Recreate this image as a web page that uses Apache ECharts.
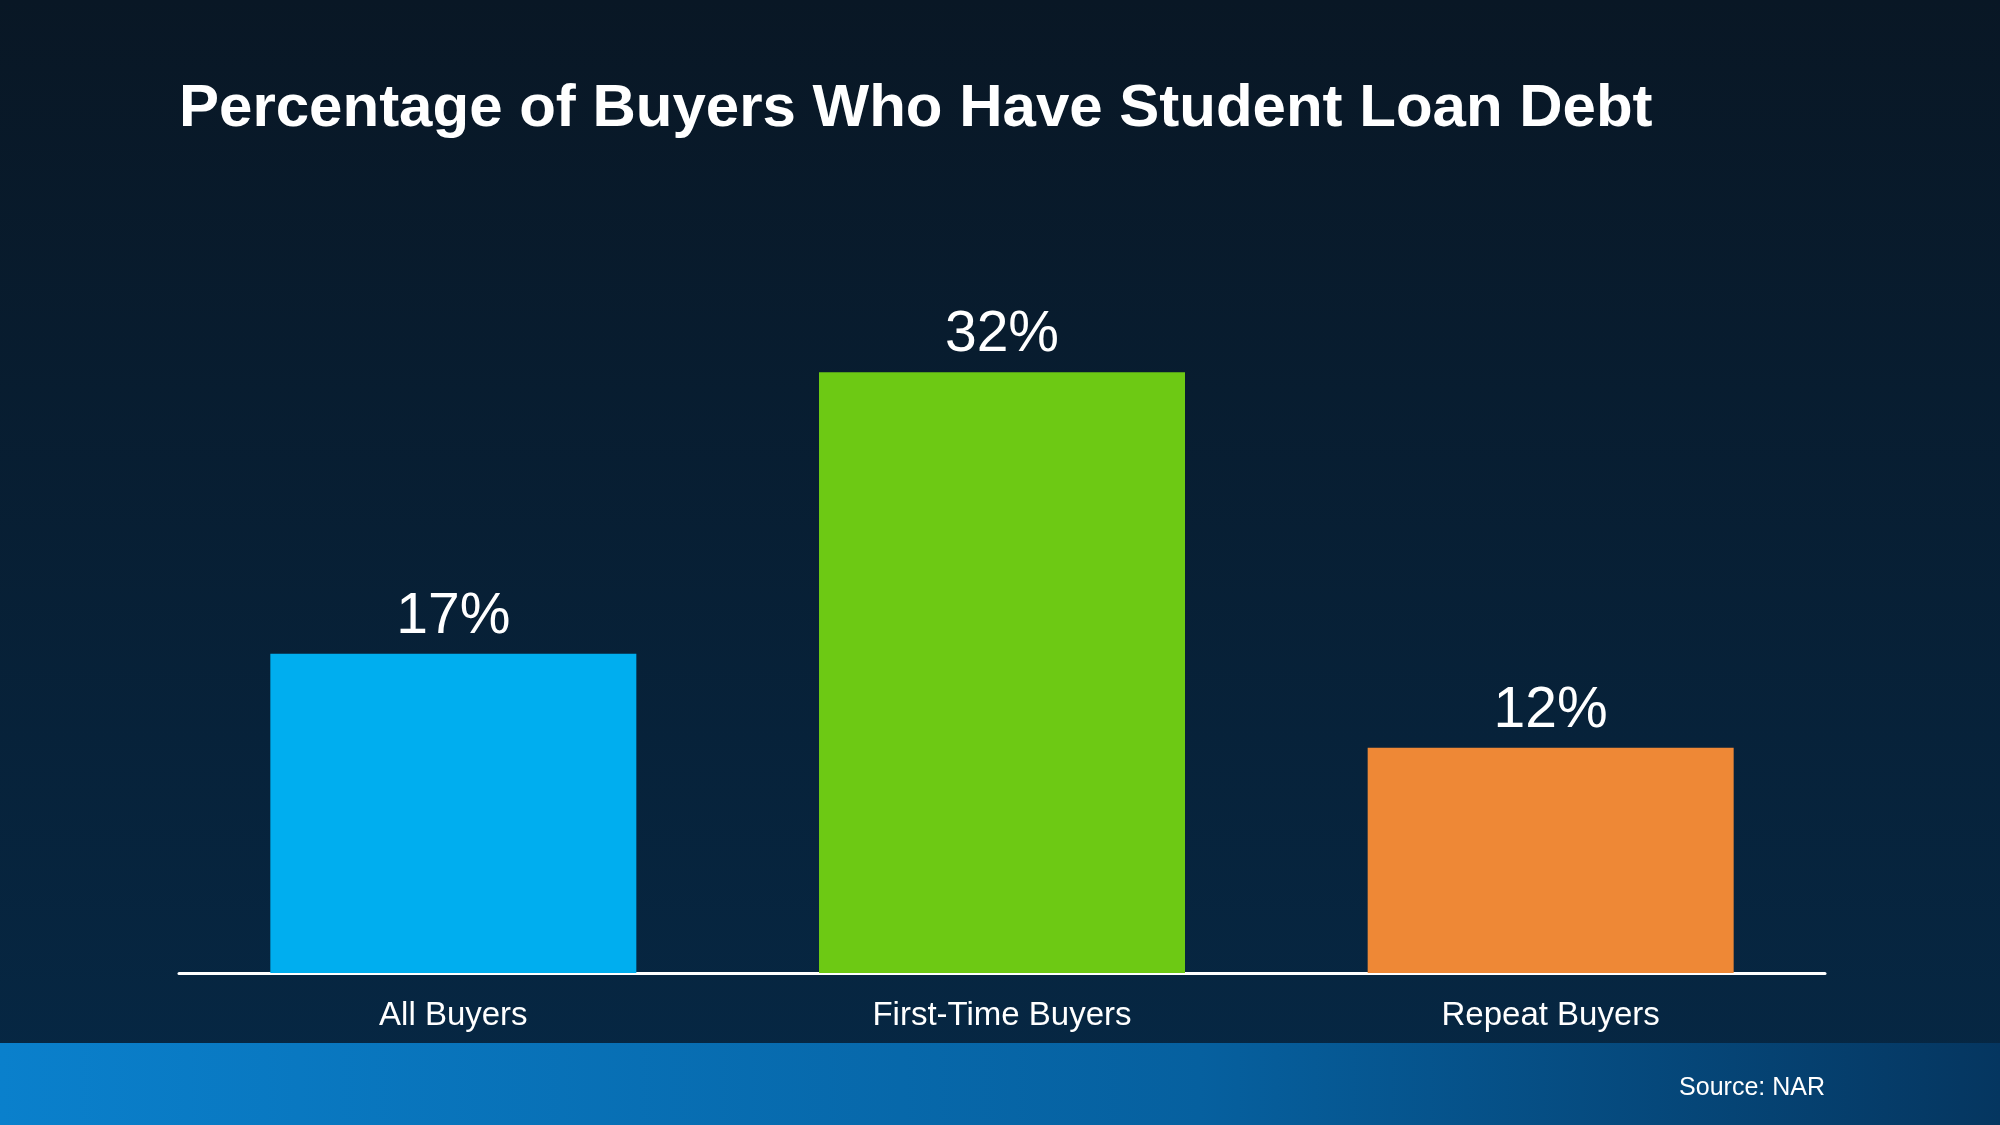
<!DOCTYPE html>
<html>
<head>
<meta charset="utf-8">
<title>Percentage of Buyers Who Have Student Loan Debt</title>
<script src="https://cdn.jsdelivr.net/npm/echarts@6/dist/echarts.min.js"></script>
<style>
  html, body { margin: 0; padding: 0; }
  #chart { width: 2000px; height: 1125px; }
</style>
</head>
<body>
<div id="chart"></div>
<script type="text/javascript">
// data
var categories = ['All Buyers', 'First-Time Buyers', 'Repeat Buyers'];
var values = [17, 32, 12];
var barColors = ['#00AEEF', '#6DC914', '#EE8836'];

var chart = echarts.init(document.getElementById('chart'));

var option = {
  backgroundColor: new echarts.graphic.LinearGradient(0, 0, 0, 1, [
    { offset: 0, color: '#091725' },
    { offset: 1, color: '#062845' }
  ]),
  title: {
    text: 'Percentage of Buyers Who Have Student Loan Debt',
    left: 174,
    top: 74,
    textStyle: {
      color: '#ffffff',
      fontFamily: 'Liberation Sans, Arial, sans-serif',
      fontWeight: 'bold',
      fontSize: 60
    }
  },
  grid: {
    left: 179,
    right: 175,
    top: 222,
    bottom: 152,
    containLabel: false
  },
  xAxis: {
    type: 'category',
    data: categories,
    axisLine: { lineStyle: { color: '#ffffff', width: 3 } },
    axisTick: { show: false },
    axisLabel: {
      color: '#ffffff',
      fontFamily: 'Liberation Sans, Arial, sans-serif',
      fontSize: 33,
      margin: 26
    }
  },
  yAxis: {
    type: 'value',
    min: 0,
    max: 40,
    show: false
  },
  series: [{
    type: 'bar',
    barWidth: 366,
    data: values.map(function (v, i) {
      return { value: v, itemStyle: { color: barColors[i] } };
    }),
    label: {
      show: true,
      position: 'top',
      distance: 8,
      color: '#ffffff',
      fontFamily: 'Liberation Sans, Arial, sans-serif',
      fontSize: 57,
      formatter: '{c}%'
    }
  }],
  graphic: [
    {
      type: 'rect',
      left: 0,
      top: 1043,
      z: -1,
      shape: { width: 2000, height: 82 },
      style: {
        fill: new echarts.graphic.LinearGradient(0, 0, 1, 0, [
          { offset: 0, color: '#0A80CC' },
          { offset: 0.6, color: '#06609F' },
          { offset: 1, color: '#053660' }
        ])
      }
    },
    {
      type: 'text',
      right: 175,
      top: 1076,
      style: {
        text: 'Source: NAR',
        fill: '#ffffff',
        font: '25px "Liberation Sans", Arial, sans-serif'
      }
    }
  ]
};

chart.setOption(option);
</script>
</body>
</html>
